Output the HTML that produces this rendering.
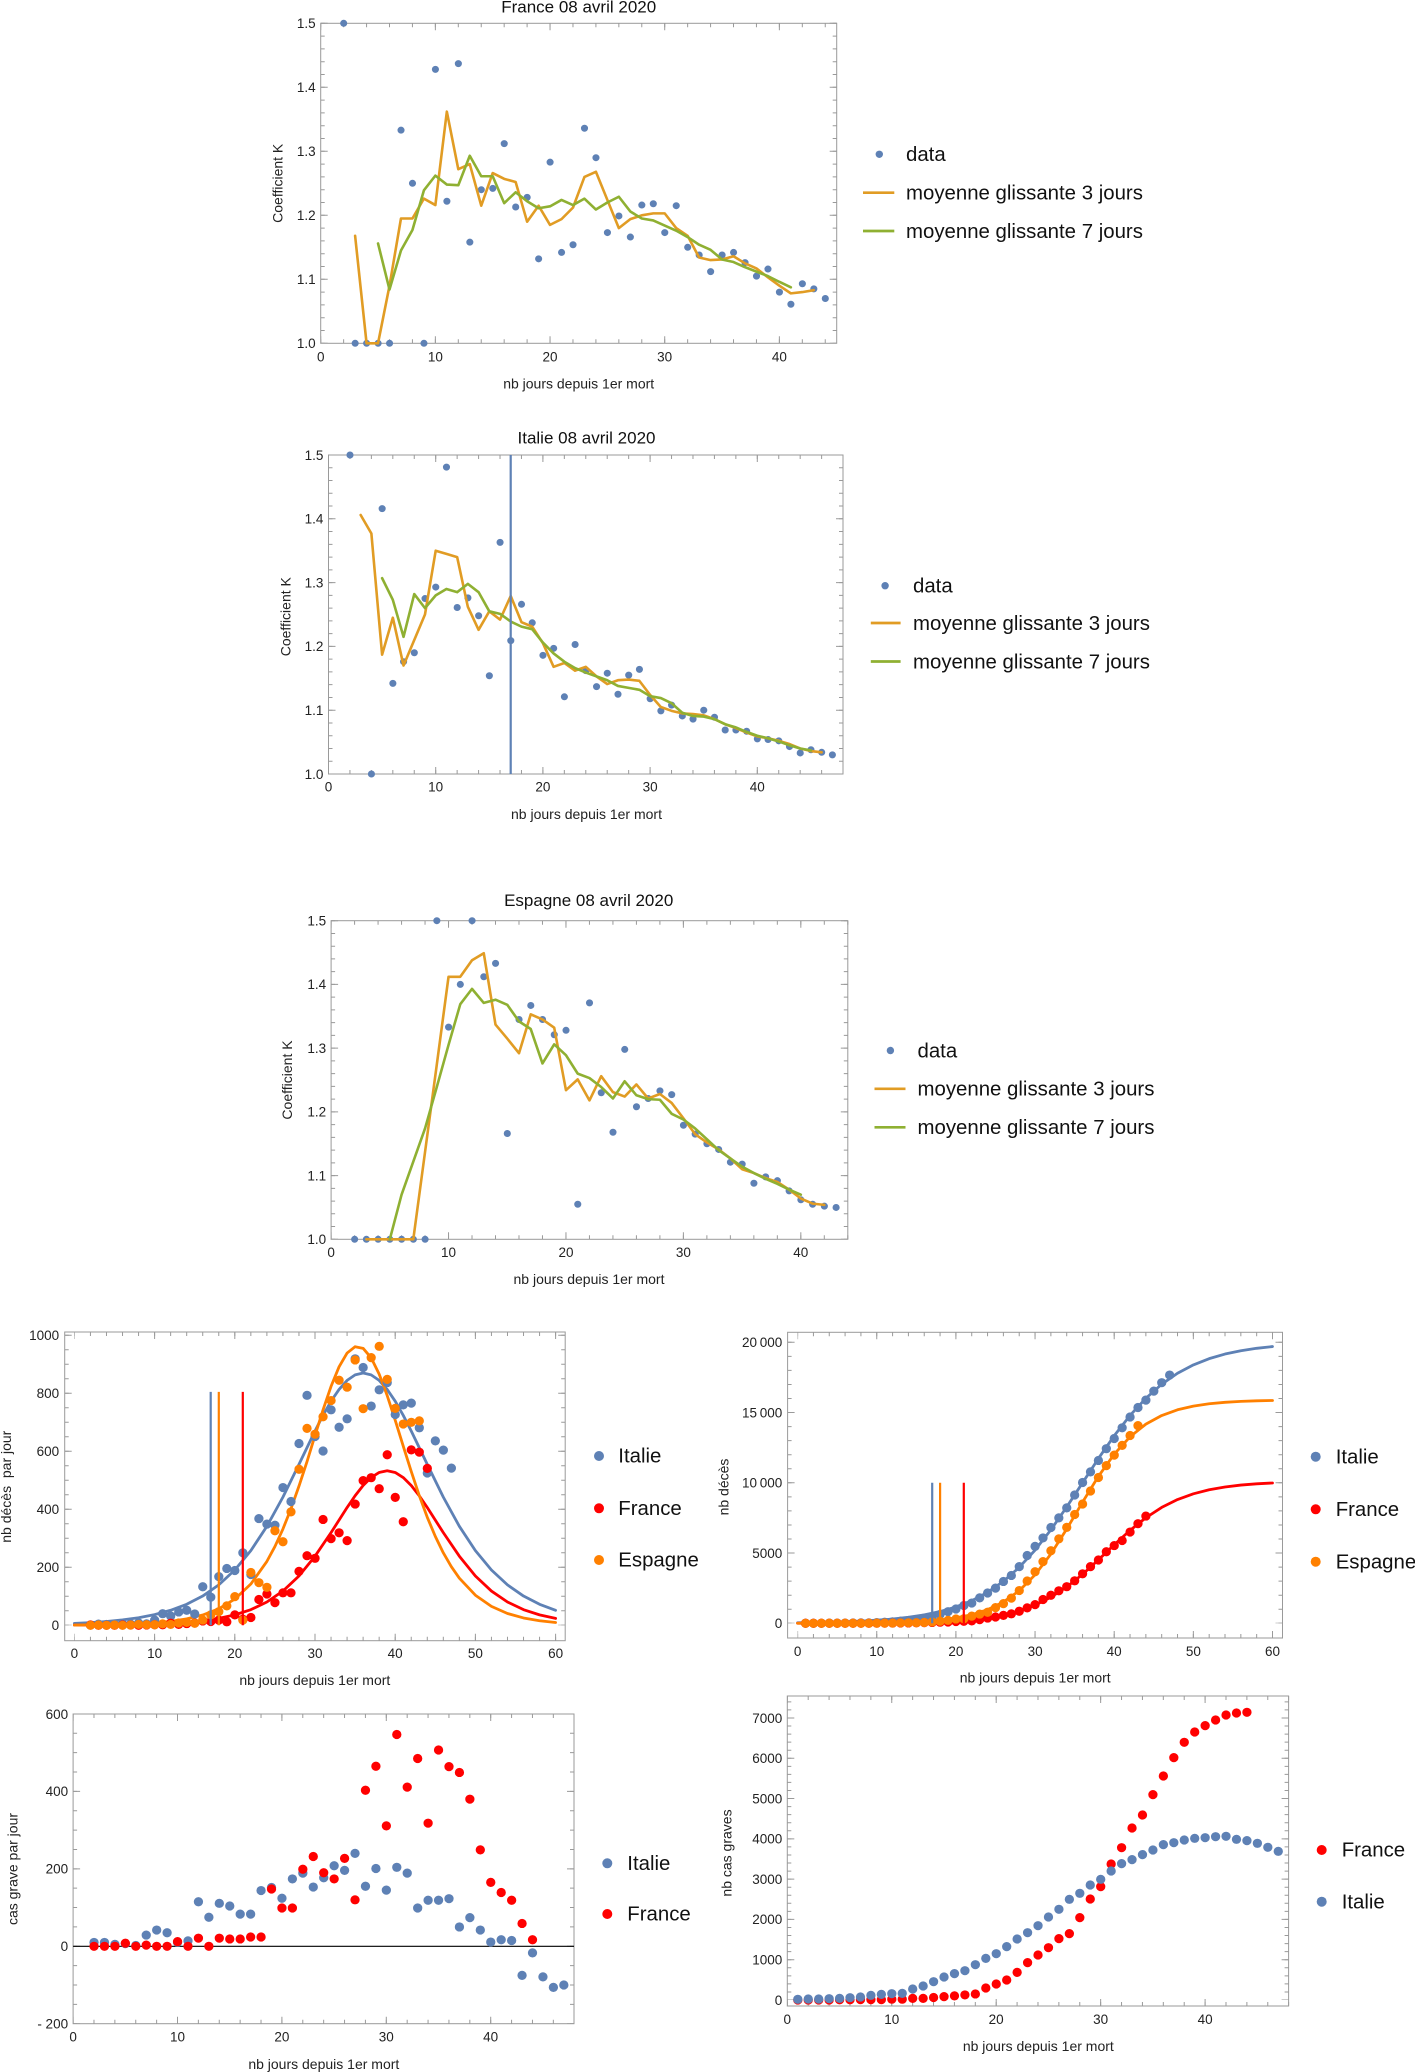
<!DOCTYPE html>
<html><head><meta charset="utf-8"><style>
html,body{margin:0;padding:0;background:#fff}
svg{display:block}
.fr{fill:none;stroke:#9a9a9a;stroke-width:1}
.tk line{stroke:#9a9a9a;fill:none}
.dot{fill:none;stroke-linecap:round;vector-effect:non-scaling-stroke}
.ln{fill:none;stroke-linejoin:round;stroke-linecap:round;vector-effect:non-scaling-stroke}
.t{font-size:13.5px;fill:#222}
.lb{font-size:14px;fill:#222}
.ti{font-size:17px;fill:#111}
.lg{font-size:20.4px;fill:#111}
</style></head><body>
<svg width="1415" height="2072" viewBox="0 0 1415 2072" font-family="'Liberation Sans', Arial, sans-serif">

<!-- ===================== FRANCE (top) ===================== -->
<text class="ti" x="578.7" y="12.7" text-anchor="middle">France 08 avril 2020</text>
<g class="tk">
<line x1="320.7" y1="341.3" x2="837.2" y2="341.3" stroke-width="4" stroke-dasharray="1 21.934" stroke-dashoffset=".5"/>
<line x1="320.7" y1="339.8" x2="837.2" y2="339.8" stroke-width="7" stroke-dasharray="1 113.67" stroke-dashoffset=".5"/>
<line x1="320.7" y1="25.3" x2="837.2" y2="25.3" stroke-width="4" stroke-dasharray="1 21.934" stroke-dashoffset=".5"/>
<line x1="320.7" y1="26.8" x2="837.2" y2="26.8" stroke-width="7" stroke-dasharray="1 113.67" stroke-dashoffset=".5"/>
<line x1="322.7" y1="343.3" x2="322.7" y2="22.8" stroke-width="4" stroke-dasharray="1 11.8" stroke-dashoffset=".5"/>
<line x1="324.2" y1="343.3" x2="324.2" y2="22.8" stroke-width="7" stroke-dasharray="1 63" stroke-dashoffset=".5"/>
<line x1="834.7" y1="343.3" x2="834.7" y2="22.8" stroke-width="4" stroke-dasharray="1 11.8" stroke-dashoffset=".5"/>
<line x1="833.2" y1="343.3" x2="833.2" y2="22.8" stroke-width="7" stroke-dasharray="1 63" stroke-dashoffset=".5"/>
</g>
<rect class="fr" x="320.7" y="23.3" width="516" height="320"/>
<g transform="translate(320.7 983.3) scale(11.467 -640)">
<path class="dot" stroke="#5E81B5" stroke-width="7" d="M2 1.5h.01M3 1h.01M4 1h.01M5 1h.01M6 1h.01M7 1.333h.01M8 1.25h.01M9 1h.01M10 1.428h.01M11 1.222h.01M12 1.437h.01M13 1.158h.01M14 1.24h.01M15 1.242h.01M16 1.312h.01M17 1.213h.01M18 1.228h.01M19 1.132h.01M20 1.283h.01M21 1.142h.01M22 1.154h.01M23 1.336h.01M24 1.29h.01M25 1.173h.01M26 1.199h.01M27 1.166h.01M28 1.216h.01M29 1.218h.01M30 1.173h.01M31 1.215h.01M32 1.15h.01M33 1.138h.01M34 1.112h.01M35 1.138h.01M36 1.142h.01M37 1.126h.01M38 1.105h.01M39 1.116h.01M40 1.08h.01M41 1.061h.01M42 1.093h.01M43 1.085h.01M44 1.07h.01"/>
<polyline class="ln" stroke="#E19C24" stroke-width="2.6" points="3,1.168 4,1 5,1 6,1.09 7,1.195 8,1.195 9,1.226 10,1.216 11,1.362 12,1.272 13,1.28 14,1.215 15,1.266 16,1.257 17,1.252 18,1.19 19,1.215 20,1.185 21,1.194 22,1.212 23,1.26 24,1.268 25,1.224 26,1.18 27,1.194 28,1.2 29,1.203 30,1.203 31,1.18 32,1.168 33,1.134 34,1.13 35,1.131 36,1.136 37,1.125 38,1.117 39,1.103 40,1.09 41,1.078 42,1.08 43,1.083"/>
<polyline class="ln" stroke="#8FB032" stroke-width="2.6" points="5,1.156 6,1.084 7,1.145 8,1.177 9,1.239 10,1.262 11,1.248 12,1.247 13,1.293 14,1.261 15,1.261 16,1.219 17,1.236 18,1.222 19,1.211 20,1.214 21,1.224 22,1.216 23,1.226 24,1.209 25,1.22 26,1.229 27,1.206 28,1.195 29,1.192 30,1.184 31,1.176 32,1.166 33,1.154 34,1.146 35,1.131 36,1.127 37,1.119 38,1.112 39,1.105 40,1.096 41,1.0875"/>
</g>
<g class="t" text-anchor="middle">
<text x="320.7" y="361.5">0</text><text x="435.4" y="361.5">10</text><text x="550" y="361.5">20</text><text x="664.7" y="361.5">30</text><text x="779.4" y="361.5">40</text>
</g>
<g class="t" text-anchor="end">
<text x="315.7" y="348.1">1.0</text><text x="315.7" y="284.1">1.1</text><text x="315.7" y="220.1">1.2</text><text x="315.7" y="156.1">1.3</text><text x="315.7" y="92.1">1.4</text><text x="315.7" y="28.1">1.5</text>
</g>
<text class="lb" x="578.7" y="388.3" text-anchor="middle">nb jours depuis 1er mort</text>
<text class="lb" transform="translate(282.5 183.3) rotate(-90)" text-anchor="middle">Coefficient K</text>
<circle cx="879.3" cy="154.3" r="3.7" fill="#5E81B5"/>
<text class="lg" x="906" y="161">data</text>
<line x1="863" y1="192.7" x2="894.3" y2="192.7" stroke="#E19C24" stroke-width="2.7"/>
<text class="lg" x="906" y="199.5">moyenne glissante 3 jours</text>
<line x1="863" y1="231" x2="894.3" y2="231" stroke="#8FB032" stroke-width="2.7"/>
<text class="lg" x="906" y="238">moyenne glissante 7 jours</text>

<!-- ===================== ITALIE (top) ===================== -->
<text class="ti" x="586.5" y="443.3" text-anchor="middle">Italie 08 avril 2020</text>
<g class="tk">
<line x1="328.5" y1="772" x2="843.5" y2="772" stroke-width="4" stroke-dasharray="1 20.44" stroke-dashoffset=".5"/>
<line x1="328.5" y1="770.5" x2="843.5" y2="770.5" stroke-width="7" stroke-dasharray="1 106.2" stroke-dashoffset=".5"/>
<line x1="328.5" y1="457" x2="843.5" y2="457" stroke-width="4" stroke-dasharray="1 20.44" stroke-dashoffset=".5"/>
<line x1="328.5" y1="458.5" x2="843.5" y2="458.5" stroke-width="7" stroke-dasharray="1 106.2" stroke-dashoffset=".5"/>
<line x1="330.5" y1="774" x2="330.5" y2="454.5" stroke-width="4" stroke-dasharray="1 11.76" stroke-dashoffset=".5"/>
<line x1="332" y1="774" x2="332" y2="454.5" stroke-width="7" stroke-dasharray="1 62.8" stroke-dashoffset=".5"/>
<line x1="841" y1="774" x2="841" y2="454.5" stroke-width="4" stroke-dasharray="1 11.76" stroke-dashoffset=".5"/>
<line x1="839.5" y1="774" x2="839.5" y2="454.5" stroke-width="7" stroke-dasharray="1 62.8" stroke-dashoffset=".5"/>
</g>
<rect class="fr" x="328.5" y="455" width="514.5" height="319"/>
<g transform="translate(328.5 1412) scale(10.72 -638)">
<path class="dot" stroke="#5E81B5" stroke-width="7" d="M2 1.5h.01M4 1h.01M5 1.416h.01M6 1.142h.01M7 1.176h.01M8 1.19h.01M9 1.275h.01M10 1.293h.01M11 1.481h.01M12 1.261h.01M13 1.276h.01M14 1.248h.01M15 1.154h.01M16 1.363h.01M17 1.209h.01M18 1.266h.01M19 1.237h.01M20 1.186h.01M21 1.197h.01M22 1.121h.01M23 1.203h.01M24 1.162h.01M25 1.137h.01M26 1.158h.01M27 1.125h.01M28 1.155h.01M29 1.164h.01M30 1.118h.01M31 1.099h.01M32 1.108h.01M33 1.091h.01M34 1.086h.01M35 1.1h.01M36 1.089h.01M37 1.069h.01M38 1.069h.01M39 1.067h.01M40 1.055h.01M41 1.054h.01M42 1.052h.01M43 1.043h.01M44 1.033h.01M45 1.038h.01M46 1.034h.01M47 1.03h.01"/>
<polyline class="ln" stroke="#E19C24" stroke-width="2.6" points="3,1.406 4,1.377 5,1.187 6,1.245 7,1.17 8,1.21 9,1.25 10,1.35 11,1.345 12,1.34 13,1.262 14,1.226 15,1.255 16,1.242 17,1.279 18,1.238 19,1.231 20,1.205 21,1.168 22,1.174 23,1.162 24,1.168 25,1.153 26,1.141 27,1.147 28,1.148 29,1.146 30,1.124 31,1.105 32,1.099 33,1.095 34,1.094 35,1.092 36,1.086 37,1.078 38,1.072 39,1.065 40,1.059 41,1.056 42,1.052 43,1.047 44,1.04 45,1.036 46,1.034"/>
<polyline class="ln" stroke="#8FB032" stroke-width="2.6" points="5,1.307 6,1.273 7,1.215 8,1.282 9,1.26 10,1.28 11,1.29 12,1.285 13,1.298 14,1.285 15,1.255 16,1.251 17,1.239 18,1.231 19,1.227 20,1.206 21,1.189 22,1.176 23,1.166 24,1.159 25,1.153 26,1.147 27,1.138 28,1.135 29,1.132 30,1.122 31,1.119 32,1.111 33,1.096 34,1.091 35,1.09 36,1.086 37,1.078 38,1.073 39,1.066 40,1.06 41,1.056 42,1.051 43,1.045 44,1.04 45,1.037"/>
</g>
<line x1="510.7" y1="455" x2="510.7" y2="774" stroke="#5E81B5" stroke-width="2.2"/>
<g class="t" text-anchor="middle">
<text x="328.5" y="791.5">0</text><text x="435.7" y="791.5">10</text><text x="542.9" y="791.5">20</text><text x="650.1" y="791.5">30</text><text x="757.3" y="791.5">40</text>
</g>
<g class="t" text-anchor="end">
<text x="323.4" y="778.8">1.0</text><text x="323.4" y="715">1.1</text><text x="323.4" y="651.2">1.2</text><text x="323.4" y="587.4">1.3</text><text x="323.4" y="523.6">1.4</text><text x="323.4" y="459.8">1.5</text>
</g>
<text class="lb" x="586.5" y="819" text-anchor="middle">nb jours depuis 1er mort</text>
<text class="lb" transform="translate(290.5 616.7) rotate(-90)" text-anchor="middle">Coefficient K</text>
<circle cx="885.1" cy="585.7" r="3.7" fill="#5E81B5"/>
<text class="lg" x="913" y="592.5">data</text>
<line x1="870.8" y1="623" x2="900.6" y2="623" stroke="#E19C24" stroke-width="2.7"/>
<text class="lg" x="913" y="629.8">moyenne glissante 3 jours</text>
<line x1="870.8" y1="661.5" x2="900.6" y2="661.5" stroke="#8FB032" stroke-width="2.7"/>
<text class="lg" x="913" y="668.3">moyenne glissante 7 jours</text>

<!-- ===================== ESPAGNE (top) ===================== -->
<text class="ti" x="588.7" y="906" text-anchor="middle">Espagne 08 avril 2020</text>
<g class="tk">
<line x1="331.1" y1="1237.3" x2="848.3" y2="1237.3" stroke-width="4" stroke-dasharray="1 22.486" stroke-dashoffset=".5"/>
<line x1="331.1" y1="1235.8" x2="848.3" y2="1235.8" stroke-width="7" stroke-dasharray="1 116.43" stroke-dashoffset=".5"/>
<line x1="331.1" y1="922.7" x2="848.3" y2="922.7" stroke-width="4" stroke-dasharray="1 22.486" stroke-dashoffset=".5"/>
<line x1="331.1" y1="924.2" x2="848.3" y2="924.2" stroke-width="7" stroke-dasharray="1 116.43" stroke-dashoffset=".5"/>
<line x1="333.1" y1="1239.3" x2="333.1" y2="920.2" stroke-width="4" stroke-dasharray="1 11.744" stroke-dashoffset=".5"/>
<line x1="334.6" y1="1239.3" x2="334.6" y2="920.2" stroke-width="7" stroke-dasharray="1 62.72" stroke-dashoffset=".5"/>
<line x1="845.8" y1="1239.3" x2="845.8" y2="920.2" stroke-width="4" stroke-dasharray="1 11.744" stroke-dashoffset=".5"/>
<line x1="844.3" y1="1239.3" x2="844.3" y2="920.2" stroke-width="7" stroke-dasharray="1 62.72" stroke-dashoffset=".5"/>
</g>
<rect class="fr" x="331.1" y="920.7" width="516.7" height="318.6"/>
<g transform="translate(331.1 1876.5) scale(11.743 -637.2)">
<path class="dot" stroke="#5E81B5" stroke-width="7" d="M2 1h.01M3 1h.01M4 1h.01M5 1h.01M6 1h.01M7 1h.01M8 1h.01M9 1.5h.01M10 1.333h.01M11 1.4h.01M12 1.5h.01M13 1.412h.01M14 1.433h.01M15 1.166h.01M16 1.345h.01M17 1.367h.01M18 1.345h.01M19 1.321h.01M20 1.328h.01M21 1.055h.01M22 1.371h.01M23 1.23h.01M24 1.168h.01M25 1.298h.01M26 1.208h.01M27 1.221h.01M28 1.233h.01M29 1.227h.01M30 1.179h.01M31 1.165h.01M32 1.15h.01M33 1.141h.01M34 1.121h.01M35 1.118h.01M36 1.088h.01M37 1.098h.01M38 1.092h.01M39 1.076h.01M40 1.062h.01M41 1.055h.01M42 1.052h.01M43 1.05h.01"/>
<polyline class="ln" stroke="#E19C24" stroke-width="2.6" points="3,1 4,1 5,1 6,1 7,1 8,1.137 9,1.274 10,1.412 11,1.412 12,1.438 13,1.449 14,1.337 15,1.315 16,1.292 17,1.353 18,1.345 19,1.332 20,1.234 21,1.251 22,1.218 23,1.256 24,1.231 25,1.224 26,1.243 27,1.221 28,1.228 29,1.214 30,1.19 31,1.165 32,1.152 33,1.141 34,1.127 35,1.11 36,1.104 37,1.096 38,1.09 39,1.078 40,1.064 41,1.056 42,1.054"/>
<polyline class="ln" stroke="#8FB032" stroke-width="2.6" points="5,1 6,1.07 7,1.122 8,1.174 9,1.239 10,1.305 11,1.369 12,1.393 13,1.371 14,1.376 15,1.368 16,1.342 17,1.33 18,1.276 19,1.306 20,1.289 21,1.26 22,1.253 23,1.239 24,1.221 25,1.248 26,1.226 27,1.22 28,1.219 29,1.197 30,1.188 31,1.174 32,1.157 33,1.14 34,1.127 35,1.114 36,1.104 37,1.095 38,1.087 39,1.078 40,1.07"/>
</g>
<g class="t" text-anchor="middle">
<text x="331.1" y="1257.1">0</text><text x="448.5" y="1257.1">10</text><text x="566" y="1257.1">20</text><text x="683.4" y="1257.1">30</text><text x="800.8" y="1257.1">40</text>
</g>
<g class="t" text-anchor="end">
<text x="326.1" y="1244.1">1.0</text><text x="326.1" y="1180.4">1.1</text><text x="326.1" y="1116.7">1.2</text><text x="326.1" y="1052.9">1.3</text><text x="326.1" y="989.2">1.4</text><text x="326.1" y="925.5">1.5</text>
</g>
<text class="lb" x="589" y="1284" text-anchor="middle">nb jours depuis 1er mort</text>
<text class="lb" transform="translate(292.1 1080) rotate(-90)" text-anchor="middle">Coefficient K</text>
<circle cx="890.4" cy="1050.5" r="3.7" fill="#5E81B5"/>
<text class="lg" x="917.5" y="1057.3">data</text>
<line x1="874.5" y1="1088.8" x2="905.5" y2="1088.8" stroke="#E19C24" stroke-width="2.7"/>
<text class="lg" x="917.5" y="1095.6">moyenne glissante 3 jours</text>
<line x1="874.5" y1="1127.3" x2="905.5" y2="1127.3" stroke="#8FB032" stroke-width="2.7"/>
<text class="lg" x="917.5" y="1134.1">moyenne glissante 7 jours</text>

<!-- ===================== CHART 1: daily deaths ===================== -->
<g class="tk">
<line x1="74.4" y1="1638.7" x2="556.1" y2="1638.7" stroke-width="4" stroke-dasharray="1 15.04" stroke-dashoffset=".5"/>
<line x1="74.4" y1="1637.2" x2="556.1" y2="1637.2" stroke-width="7" stroke-dasharray="1 79.2" stroke-dashoffset=".5"/>
<line x1="74.4" y1="1334" x2="556.1" y2="1334" stroke-width="4" stroke-dasharray="1 15.04" stroke-dashoffset=".5"/>
<line x1="74.4" y1="1335.5" x2="556.1" y2="1335.5" stroke-width="7" stroke-dasharray="1 79.2" stroke-dashoffset=".5"/>
<line x1="66.7" y1="1625.3" x2="66.7" y2="1331.5" stroke-width="4" stroke-dasharray="1 13.5" stroke-dashoffset=".5"/>
<line x1="68.2" y1="1625.3" x2="68.2" y2="1331.5" stroke-width="7" stroke-dasharray="1 57" stroke-dashoffset=".5"/>
<line x1="563.2" y1="1625.3" x2="563.2" y2="1331.5" stroke-width="4" stroke-dasharray="1 13.5" stroke-dashoffset=".5"/>
<line x1="561.7" y1="1625.3" x2="561.7" y2="1331.5" stroke-width="7" stroke-dasharray="1 57" stroke-dashoffset=".5"/>
</g>
<rect class="fr" x="64.7" y="1332" width="500.5" height="308.7"/>
<g transform="translate(74.4 1625.3) scale(8.02 -0.29)">
<polyline class="ln" stroke="#5E81B5" stroke-width="2.8" points="0,6.6 2,9.3 4,13.2 6,18.6 8,26.2 10,36.9 12,51.8 14,72.5 16,100.9 18,139.4 20,190.7 22,257.5 24,341.3 26,442 28,554.9 30,670.1 31,724.1 32,772.8 33,813.2 34,844.5 35,863.5 36,870 37,863.5 38,844.5 39,813.2 40,772.8 41,724.1 42,670.1 44,554.9 46,442 48,341.3 50,257.5 52,190.7 54,139.4 56,100.9 58,72.5 60,51.8"/>
<polyline class="ln" stroke="#FF0000" stroke-width="2.8" points="0,0.52 4,1.22 8,2.87 12,6.7 16,15.6 18,23.7 20,35.9 22,53.9 24,80.4 26,118.1 28,170 30,238.2 32,319.5 34,406.1 35,446.8 36,482.1 37,509.5 38,527 39,533 40,527 41,509.5 42,482.1 43,446.8 44,406.1 46,319.5 48,238.2 50,170 52,118.1 54,80.4 56,53.9 58,35.9 60,23.7"/>
<polyline class="ln" stroke="#FF8000" stroke-width="2.8" points="0,0.75 4,1.98 8,5.2 12,13.6 14,22 16,35.4 18,56.8 20,90.4 22,142.4 24,220.4 25,271.5 26,332 27,401.6 28,479.9 29,564.2 30,654.2 31,742.7 32,823.8 33,891.3 34,938.7 35,960.7 36,955.1 37,922.4 38,866.3 39,792.3 40,707.1 41,618.1 42,530.5 43,447.4 44,372.5 45,306.6 46,249.9 47,202.2 48,162.6 50,103.7 52,65.3 54,40.8 56,25.3 58,15.7 60,9.7"/>
<path class="dot" stroke="#5E81B5" stroke-width="9.2" d="M2 1h.01M3 4h.01M4 3h.01M5 2h.01M6 5h.01M7 4h.01M8 8h.01M9 5h.01M10 18h.01M11 40h.01M12 32h.01M13 46h.01M14 52h.01M15 39h.01M16 133h.01M17 97h.01M18 168h.01M19 196h.01M20 189h.01M21 250h.01M22 175h.01M23 368h.01M24 349h.01M25 345h.01M26 475h.01M27 427h.01M28 627h.01M29 793h.01M30 651h.01M31 601h.01M32 743h.01M33 683h.01M34 712h.01M35 919h.01M36 889h.01M37 756h.01M38 812h.01M39 837h.01M40 727h.01M41 760h.01M42 766h.01M43 681h.01M44 525h.01M45 636h.01M46 604h.01M47 542h.01"/>
<path class="dot" stroke="#FF0000" stroke-width="9.2" d="M2 1h.01M3 0h.01M4 0h.01M5 0h.01M6 1h.01M7 1h.01M8 0h.01M9 1h.01M10 2h.01M11 2h.01M12 7h.01M13 3h.01M14 6h.01M15 8h.01M16 15h.01M17 13h.01M18 18h.01M19 12h.01M20 36h.01M21 21h.01M22 27h.01M23 89h.01M24 108h.01M25 78h.01M26 112h.01M27 112h.01M28 186h.01M29 240h.01M30 231h.01M31 365h.01M32 299h.01M33 319h.01M34 292h.01M35 418h.01M36 499h.01M37 509h.01M38 471h.01M39 588h.01M40 441h.01M41 357h.01M42 605h.01M43 597h.01M44 541h.01"/>
<path class="dot" stroke="#FF8000" stroke-width="9.2" d="M2 0h.01M3 1h.01M4 0h.01M5 1h.01M6 0h.01M7 1h.01M8 3h.01M9 2h.01M10 2h.01M11 5h.01M12 3h.01M13 8h.01M14 10h.01M15 7h.01M16 18h.01M17 36h.01M18 47h.01M19 67h.01M20 99h.01M21 18h.01M22 182h.01M23 147h.01M24 131h.01M25 326h.01M26 288h.01M27 391h.01M28 538h.01M29 679h.01M30 659h.01M31 719h.01M32 775h.01M33 845h.01M34 821h.01M35 915h.01M36 747h.01M37 923h.01M38 962h.01M39 848h.01M40 748h.01M41 694h.01M42 700h.01M43 705h.01"/>
</g>
<line x1="210.7" y1="1625.3" x2="210.7" y2="1391.9" stroke="#5E81B5" stroke-width="2.2"/>
<line x1="218.8" y1="1625.3" x2="218.8" y2="1391.9" stroke="#FF8000" stroke-width="2.2"/>
<line x1="242.8" y1="1625.3" x2="242.8" y2="1391.9" stroke="#FF0000" stroke-width="2.2"/>
<g class="t" text-anchor="middle">
<text x="74.4" y="1658">0</text><text x="154.6" y="1658">10</text><text x="234.8" y="1658">20</text><text x="315" y="1658">30</text><text x="395.2" y="1658">40</text><text x="475.4" y="1658">50</text><text x="555.6" y="1658">60</text>
</g>
<g class="t" text-anchor="end">
<text x="59.2" y="1630.1">0</text><text x="59.2" y="1572.1">200</text><text x="59.2" y="1514.1">400</text><text x="59.2" y="1456.1">600</text><text x="59.2" y="1398.1">800</text><text x="59.2" y="1340.1">1000</text>
</g>
<text class="lb" x="314.8" y="1685" text-anchor="middle">nb jours depuis 1er mort</text>
<text class="lb" transform="translate(11 1486.7) rotate(-90)" text-anchor="middle">nb décès&#160; par jour</text>
<circle cx="599" cy="1456" r="5" fill="#5E81B5"/>
<text class="lg" x="618.3" y="1462.7">Italie</text>
<circle cx="599" cy="1508.3" r="5" fill="#FF0000"/>
<text class="lg" x="618.3" y="1515">France</text>
<circle cx="599" cy="1560" r="5" fill="#FF8000"/>
<text class="lg" x="618.3" y="1566.7">Espagne</text>

<!-- ===================== CHART 2: cumulative deaths ===================== -->
<g class="tk">
<line x1="797.6" y1="1636" x2="1273" y2="1636" stroke-width="4" stroke-dasharray="1 14.83" stroke-dashoffset=".5"/>
<line x1="797.6" y1="1634.5" x2="1273" y2="1634.5" stroke-width="7" stroke-dasharray="1 78.15" stroke-dashoffset=".5"/>
<line x1="797.6" y1="1334.3" x2="1273" y2="1334.3" stroke-width="4" stroke-dasharray="1 14.83" stroke-dashoffset=".5"/>
<line x1="797.6" y1="1335.8" x2="1273" y2="1335.8" stroke-width="7" stroke-dasharray="1 78.15" stroke-dashoffset=".5"/>
<line x1="789.6" y1="1623.3" x2="789.6" y2="1331.8" stroke-width="4" stroke-dasharray="1 13.05" stroke-dashoffset=".5"/>
<line x1="791.1" y1="1623.3" x2="791.1" y2="1331.8" stroke-width="7" stroke-dasharray="1 69.25" stroke-dashoffset=".5"/>
<line x1="1280.5" y1="1623.3" x2="1280.5" y2="1331.8" stroke-width="4" stroke-dasharray="1 13.05" stroke-dashoffset=".5"/>
<line x1="1279" y1="1623.3" x2="1279" y2="1331.8" stroke-width="7" stroke-dasharray="1 69.25" stroke-dashoffset=".5"/>
</g>
<rect class="fr" x="787.6" y="1332.3" width="494.9" height="305.7"/>
<g transform="translate(797.6 1623.3) scale(7.915 -0.01405)">
<polyline class="ln" stroke="#5E81B5" stroke-width="2.8" points="0,37.9 4,76 8,152 12,302.5 14,425.8 16,597.7 18,836.1 20,1164 22,1609 24,2205 26,2986 28,3982 30,5207 32,6653 34,8278 36,10000 38,11722 40,13346 42,14793 44,16018 46,17014 48,17795 50,18391 52,18836 54,19164 56,19402 58,19573 60,19697"/>
<polyline class="ln" stroke="#FF0000" stroke-width="2.8" points="0,2.5 8,13.6 12,31.8 16,74.3 18,113.5 20,172.7 22,262.3 24,396.4 26,594.5 28,883.6 30,1292.8 32,1854.4 34,2586.6 36,3487.5 38,4512.7 40,5586.3 42,6612.5 44,7513.4 46,8246.7 48,8808.2 50,9217.3 52,9506.1 54,9704.1 56,9838.4 58,9927.3 60,9986.9"/>
<polyline class="ln" stroke="#FF8000" stroke-width="2.8" points="0,3.1 6,13.2 10,34.8 14,91.2 16,147.5 18,238 20,382.6 22,611.5 24,969 26,1515 28,2320 30,3451 32,4933 34,6709 36,8620 38,10457 40,12038 42,13276 44,14174 46,14789 48,15196 50,15459 52,15625 54,15730 56,15794 58,15835 60,15860"/>
<path class="dot" stroke="#5E81B5" stroke-width="9.2" d="M1 2h.01M2 3h.01M3 7h.01M4 10h.01M5 12h.01M6 17h.01M7 21h.01M8 29h.01M9 34h.01M10 52h.01M11 79h.01M12 107h.01M13 148h.01M14 197h.01M15 233h.01M16 366h.01M17 463h.01M18 631h.01M19 827h.01M20 1016h.01M21 1266h.01M22 1441h.01M23 1809h.01M24 2158h.01M25 2503h.01M26 2978h.01M27 3405h.01M28 4032h.01M29 4825h.01M30 5476h.01M31 6077h.01M32 6820h.01M33 7503h.01M34 8215h.01M35 9134h.01M36 10023h.01M37 10779h.01M38 11591h.01M39 12428h.01M40 13155h.01M41 13915h.01M42 14681h.01M43 15362h.01M44 15887h.01M45 16523h.01M46 17127h.01M47 17669h.01"/>
<path class="dot" stroke="#FF0000" stroke-width="9.2" d="M1 1h.01M2 2h.01M3 2h.01M4 2h.01M5 2h.01M6 3h.01M7 4h.01M8 4h.01M9 5h.01M10 7h.01M11 9h.01M12 16h.01M13 19h.01M14 25h.01M15 33h.01M16 48h.01M17 61h.01M18 79h.01M19 91h.01M20 127h.01M21 148h.01M22 175h.01M23 264h.01M24 372h.01M25 450h.01M26 562h.01M27 674h.01M28 860h.01M29 1100h.01M30 1331h.01M31 1696h.01M32 1995h.01M33 2314h.01M34 2606h.01M35 3024h.01M36 3523h.01M37 4032h.01M38 4503h.01M39 5091h.01M40 5532h.01M41 5889h.01M42 6494h.01M43 7091h.01M44 7632h.01"/>
<path class="dot" stroke="#FF8000" stroke-width="9.2" d="M1 0h.01M2 0h.01M3 1h.01M4 1h.01M5 2h.01M6 2h.01M7 3h.01M8 6h.01M9 8h.01M10 10h.01M11 15h.01M12 18h.01M13 26h.01M14 36h.01M15 43h.01M16 61h.01M17 97h.01M18 144h.01M19 211h.01M20 310h.01M21 328h.01M22 510h.01M23 657h.01M24 788h.01M25 1114h.01M26 1402h.01M27 1793h.01M28 2331h.01M29 3010h.01M30 3669h.01M31 4388h.01M32 5163h.01M33 6008h.01M34 6829h.01M35 7744h.01M36 8491h.01M37 9414h.01M38 10376h.01M39 11224h.01M40 11972h.01M41 12666h.01M42 13366h.01M43 14071h.01"/>
</g>
<line x1="932.2" y1="1623.3" x2="932.2" y2="1482.8" stroke="#5E81B5" stroke-width="2.2"/>
<line x1="940.1" y1="1623.3" x2="940.1" y2="1482.8" stroke="#FF8000" stroke-width="2.2"/>
<line x1="963.8" y1="1623.3" x2="963.8" y2="1482.8" stroke="#FF0000" stroke-width="2.2"/>
<g class="t" text-anchor="middle">
<text x="797.6" y="1655.8">0</text><text x="876.8" y="1655.8">10</text><text x="955.9" y="1655.8">20</text><text x="1035.1" y="1655.8">30</text><text x="1114.2" y="1655.8">40</text><text x="1193.4" y="1655.8">50</text><text x="1272.5" y="1655.8">60</text>
</g>
<g class="t" text-anchor="end">
<text x="782.3" y="1628.1">0</text><text x="782.3" y="1557.9">5000</text><text x="782.3" y="1487.6">10&#8201;000</text><text x="782.3" y="1417.4">15&#8201;000</text><text x="782.3" y="1347.1">20&#8201;000</text>
</g>
<text class="lb" x="1035.2" y="1682.7" text-anchor="middle">nb jours depuis 1er mort</text>
<text class="lb" transform="translate(728.5 1487) rotate(-90)" text-anchor="middle">nb décès</text>
<circle cx="1315.7" cy="1456.7" r="5" fill="#5E81B5"/>
<text class="lg" x="1335.7" y="1463.4">Italie</text>
<circle cx="1315.7" cy="1509.3" r="5" fill="#FF0000"/>
<text class="lg" x="1335.7" y="1516">France</text>
<circle cx="1315.7" cy="1561.7" r="5" fill="#FF8000"/>
<text class="lg" x="1335.7" y="1568.4">Espagne</text>

<!-- ===================== CHART 3: cas grave par jour ===================== -->
<g class="tk">
<line x1="73.1" y1="2021.7" x2="574.5" y2="2021.7" stroke-width="4" stroke-dasharray="1 19.88" stroke-dashoffset=".5"/>
<line x1="73.1" y1="2020.2" x2="574.5" y2="2020.2" stroke-width="7" stroke-dasharray="1 103.4" stroke-dashoffset=".5"/>
<line x1="73.1" y1="1716" x2="574.5" y2="1716" stroke-width="4" stroke-dasharray="1 19.88" stroke-dashoffset=".5"/>
<line x1="73.1" y1="1717.5" x2="574.5" y2="1717.5" stroke-width="7" stroke-dasharray="1 103.4" stroke-dashoffset=".5"/>
<line x1="75.1" y1="2023.7" x2="75.1" y2="1713.5" stroke-width="4" stroke-dasharray="1 18.36" stroke-dashoffset=".5"/>
<line x1="76.6" y1="2023.7" x2="76.6" y2="1713.5" stroke-width="7" stroke-dasharray="1 76.43" stroke-dashoffset=".5"/>
<line x1="572" y1="2023.7" x2="572" y2="1713.5" stroke-width="4" stroke-dasharray="1 18.36" stroke-dashoffset=".5"/>
<line x1="570.5" y1="2023.7" x2="570.5" y2="1713.5" stroke-width="7" stroke-dasharray="1 76.43" stroke-dashoffset=".5"/>
</g>
<rect class="fr" x="73.1" y="1714" width="500.9" height="309.7"/>
<line x1="73.1" y1="1946.3" x2="574" y2="1946.3" stroke="#000" stroke-width="1.2"/>
<g transform="translate(73.1 1946.3) scale(10.44 -0.3872)">
<path class="dot" stroke="#5E81B5" stroke-width="9.2" d="M2 10h.01M3 10h.01M4 5h.01M5 7h.01M6 2h.01M7 29h.01M8 42h.01M9 35h.01M10 10h.01M11 14h.01M12 115h.01M13 75h.01M14 111h.01M15 104h.01M16 83h.01M17 83h.01M18 144h.01M19 152h.01M20 124h.01M21 174h.01M22 189h.01M23 153h.01M24 177h.01M25 208h.01M26 196h.01M27 240h.01M28 155h.01M29 201h.01M30 145h.01M31 204h.01M32 189h.01M33 99h.01M34 119h.01M35 119h.01M36 123h.01M37 50h.01M38 74h.01M39 42h.01M40 11h.01M41 17h.01M42 15h.01M43 -75h.01M44 -17h.01M45 -79h.01M46 -106h.01M47 -100h.01"/>
<path class="dot" stroke="#FF0000" stroke-width="9.2" d="M2 0h.01M3 0h.01M4 0h.01M5 8h.01M6 0h.01M7 3h.01M8 0h.01M9 0h.01M10 12h.01M11 0h.01M12 21h.01M13 0h.01M14 21h.01M15 19h.01M16 19h.01M17 24h.01M18 24h.01M19 148h.01M20 99h.01M21 99h.01M22 199h.01M23 232h.01M24 190h.01M25 174h.01M26 227h.01M27 120h.01M28 403h.01M29 465h.01M30 311h.01M31 547h.01M32 411h.01M33 485h.01M34 318h.01M35 507h.01M36 464h.01M37 449h.01M38 380h.01M39 249h.01M40 165h.01M41 139h.01M42 119h.01M43 59h.01M44 17h.01"/>
</g>
<g class="t" text-anchor="middle">
<text x="73.1" y="2041.5">0</text><text x="177.5" y="2041.5">10</text><text x="281.9" y="2041.5">20</text><text x="386.3" y="2041.5">30</text><text x="490.7" y="2041.5">40</text>
</g>
<g class="t" text-anchor="end">
<text x="68.1" y="1718.8">600</text><text x="68.1" y="1796.2">400</text><text x="68.1" y="1873.7">200</text><text x="68.1" y="1951.1">0</text><text x="68.1" y="2028.5">-&#160;200</text>
</g>
<text class="lb" x="323.8" y="2069" text-anchor="middle">nb jours depuis 1er mort</text>
<text class="lb" transform="translate(17.5 1869) rotate(-90)" text-anchor="middle">cas grave par jour</text>
<circle cx="607.3" cy="1863.3" r="5" fill="#5E81B5"/>
<text class="lg" x="627.3" y="1870">Italie</text>
<circle cx="607.3" cy="1914" r="5" fill="#FF0000"/>
<text class="lg" x="627.3" y="1920.7">France</text>

<!-- ===================== CHART 4: nb cas graves ===================== -->
<g class="tk">
<line x1="787.3" y1="2004" x2="1289.1" y2="2004" stroke-width="4" stroke-dasharray="1 19.89" stroke-dashoffset=".5"/>
<line x1="787.3" y1="2002.5" x2="1289.1" y2="2002.5" stroke-width="7" stroke-dasharray="1 103.45" stroke-dashoffset=".5"/>
<line x1="787.3" y1="1698" x2="1289.1" y2="1698" stroke-width="4" stroke-dasharray="1 19.89" stroke-dashoffset=".5"/>
<line x1="787.3" y1="1699.5" x2="1289.1" y2="1699.5" stroke-width="7" stroke-dasharray="1 103.45" stroke-dashoffset=".5"/>
<line x1="789.3" y1="2000" x2="789.3" y2="1695.5" stroke-width="4" stroke-dasharray="1 7.058" stroke-dashoffset=".5"/>
<line x1="790.8" y1="2000" x2="790.8" y2="1695.5" stroke-width="7" stroke-dasharray="1 39.29" stroke-dashoffset=".5"/>
<line x1="1286.6" y1="2000" x2="1286.6" y2="1695.5" stroke-width="4" stroke-dasharray="1 7.058" stroke-dashoffset=".5"/>
<line x1="1285.1" y1="2000" x2="1285.1" y2="1695.5" stroke-width="7" stroke-dasharray="1 39.29" stroke-dashoffset=".5"/>
</g>
<rect class="fr" x="787.3" y="1696" width="501.3" height="310"/>
<g transform="translate(787.3 2000) scale(10.445 -0.04029)">
<path class="dot" stroke="#FF0000" stroke-width="9.2" d="M1 0h.01M2 0h.01M3 0h.01M4 0h.01M5 5h.01M6 5h.01M7 8h.01M8 8h.01M9 8h.01M10 20h.01M11 20h.01M12 41h.01M13 41h.01M14 62h.01M15 83h.01M16 102h.01M17 126h.01M18 150h.01M19 298h.01M20 397h.01M21 496h.01M22 686h.01M23 927h.01M24 1117h.01M25 1299h.01M26 1523h.01M27 1647h.01M28 2044h.01M29 2507h.01M30 2813h.01M31 3376h.01M32 3781h.01M33 4269h.01M34 4592h.01M35 5097h.01M36 5560h.01M37 6015h.01M38 6396h.01M39 6652h.01M40 6810h.01M41 6950h.01M42 7074h.01M43 7124h.01M44 7141h.01"/>
<path class="dot" stroke="#5E81B5" stroke-width="9.2" d="M1 17h.01M2 25h.01M3 25h.01M4 33h.01M5 41h.01M6 58h.01M7 74h.01M8 116h.01M9 140h.01M10 157h.01M11 165h.01M12 273h.01M13 348h.01M14 455h.01M15 571h.01M16 654h.01M17 728h.01M18 877h.01M19 1034h.01M20 1150h.01M21 1324h.01M22 1514h.01M23 1671h.01M24 1845h.01M25 2060h.01M26 2251h.01M27 2499h.01M28 2648h.01M29 2855h.01M30 2995h.01M31 3202h.01M32 3384h.01M33 3484h.01M34 3608h.01M35 3723h.01M36 3856h.01M37 3905h.01M38 3972h.01M39 4013h.01M40 4029h.01M41 4054h.01M42 4063h.01M43 3988h.01M44 3955h.01M45 3889h.01M46 3790h.01M47 3690h.01"/>
</g>
<g class="t" text-anchor="middle">
<text x="787.3" y="2024.1">0</text><text x="891.8" y="2024.1">10</text><text x="996.2" y="2024.1">20</text><text x="1100.7" y="2024.1">30</text><text x="1205.1" y="2024.1">40</text>
</g>
<g class="t" text-anchor="end">
<text x="782.3" y="2004.8">0</text><text x="782.3" y="1964.5">1000</text><text x="782.3" y="1924.2">2000</text><text x="782.3" y="1883.9">3000</text><text x="782.3" y="1843.6">4000</text><text x="782.3" y="1803.3">5000</text><text x="782.3" y="1763.1">6000</text><text x="782.3" y="1722.8">7000</text>
</g>
<text class="lb" x="1038.3" y="2051" text-anchor="middle">nb jours depuis 1er mort</text>
<text class="lb" transform="translate(731.5 1853) rotate(-90)" text-anchor="middle">nb cas graves</text>
<circle cx="1321.7" cy="1850" r="5" fill="#FF0000"/>
<text class="lg" x="1341.7" y="1856.7">France</text>
<circle cx="1321.7" cy="1901.7" r="5" fill="#5E81B5"/>
<text class="lg" x="1341.7" y="1908.4">Italie</text>

</svg>
</body></html>
